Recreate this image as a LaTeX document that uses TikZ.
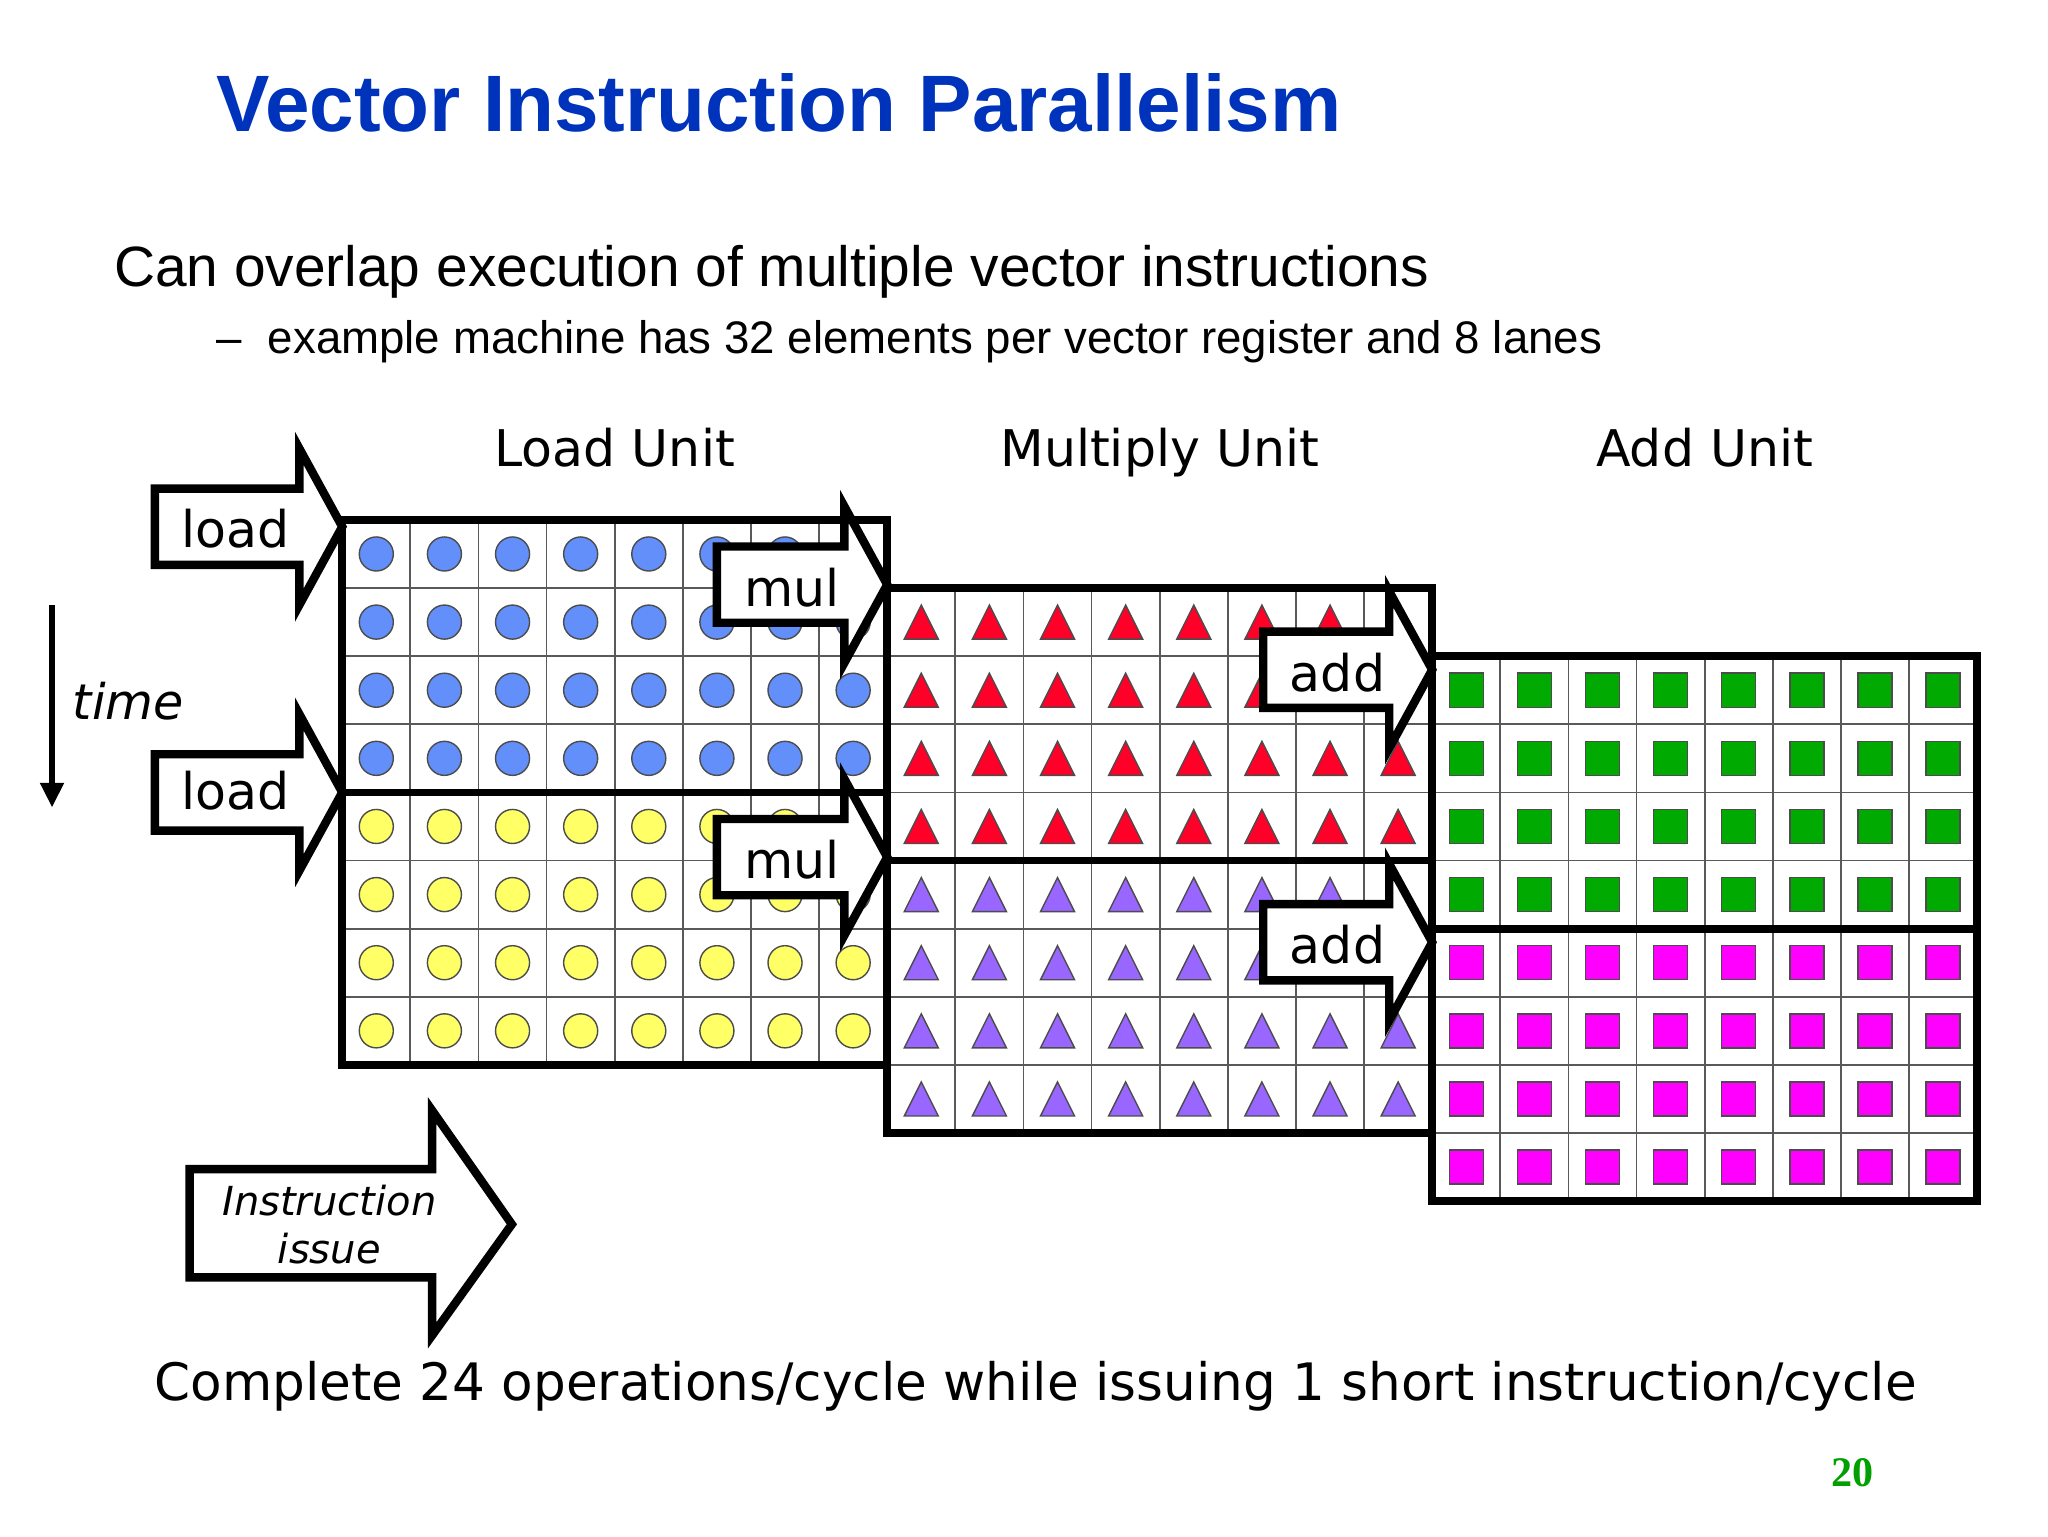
\documentclass[tikz,border=0pt]{standalone}
\usepackage{fontspec}
\setmainfont{DejaVu Sans}
\newfontfamily\arialfont{Liberation Sans}
\newfontfamily\timesfont{Liberation Serif}
\usetikzlibrary{arrows.meta}

\definecolor{titleblue}{RGB}{0,51,187}
\definecolor{ldblue}{RGB}{99,143,250}
\definecolor{ldyellow}{RGB}{255,255,102}
\definecolor{mulred}{RGB}{255,0,40}
\definecolor{mulpurple}{RGB}{153,102,255}
\definecolor{addgreen}{RGB}{0,170,0}
\definecolor{addmagenta}{RGB}{255,0,255}
\definecolor{pagegreen}{RGB}{0,160,0}

\begin{document}
\begin{tikzpicture}[x=0.682cm,y=0.682cm,
    cellgrid/.style={black!65, line width=0.5pt},
    regbox/.style={draw, line width=2.2pt},
    issuearrow/.style={draw, fill=white, line width=2.4pt, line join=miter},
    elem/.style={draw=black!70, line width=0.4pt},
    verd/.style={font=\fontsize{14.4}{17}\selectfont}]

      \useasboundingbox[fill=white] (-5.024,7.632) rectangle (25.04,-14.92);

      % slide texts
      \begin{scope}[every node/.style={inner sep=0pt}]
        \node[anchor=base west, text=titleblue, font=\arialfont\bfseries\fontsize{22.8}{27}\selectfont] (title) at (-1.86,5.70) {Vector Instruction Parallelism};
        \node[anchor=base west, font=\arialfont\fontsize{16.2}{19}\selectfont] (point) at (-3.36,3.43) {Can overlap execution of multiple vector instructions};
        \node[anchor=base west, font=\arialfont\fontsize{13}{15}\selectfont] (subpoint) at (-1.86,2.45) {–\hspace{7.5pt}example machine has 32 elements per vector register and 8 lanes};
        \node[anchor=base, verd] (loadunit) at (4,0.79) {Load Unit};
        \node[anchor=base, verd] (mulunit)  at (12,0.79) {Multiply Unit};
        \node[anchor=base, verd] (addunit)  at (20,0.79) {Add Unit};
        \node[anchor=base, font=\fontsize{14.7}{17}\selectfont] (summary) at (10.18,-12.92) {Complete 24 operations/cycle while issuing 1 short instruction/cycle};
        \node[anchor=base, font=\itshape\fontsize{14}{17}\selectfont] (time) at (-3.14,-2.93) {time};
        \node[text=pagegreen, font=\timesfont\bfseries\fontsize{12}{14}\selectfont] (page) at (22.17,-13.98) {20};
      \end{scope}

      % lanes x elements
      \foreach \k in {0,...,8} {
        \draw[cellgrid] (\k,0) -- (\k,-8);
        \draw[cellgrid] (0,-\k) -- (8,-\k);
        \draw[cellgrid] (\k+8,-1) -- (\k+8,-9);
        \draw[cellgrid] (8,-\k-1) -- (16,-\k-1);
        \draw[cellgrid] (\k+16,-2) -- (\k+16,-10);
        \draw[cellgrid] (16,-\k-2) -- (24,-\k-2);
      }

      \foreach \i in {0,...,7}
        \foreach \j in {0,...,3} {
          \filldraw[elem, fill=ldblue]   (\i+0.5,-\j-0.5) circle (0.25);
          \filldraw[elem, fill=ldyellow] (\i+0.5,-\j-4.5) circle (0.25);
          \filldraw[elem, fill=mulred, shift={(\i+8.5,-\j-1.5)}]    (-0.25,-0.25) -- (0.25,-0.25) -- (0,0.25) -- cycle;
          \filldraw[elem, fill=mulpurple, shift={(\i+8.5,-\j-5.5)}] (-0.25,-0.25) -- (0.25,-0.25) -- (0,0.25) -- cycle;
          \filldraw[elem, fill=addgreen]   (\i+16.25,-\j-2.75) rectangle (\i+16.75,-\j-2.25);
          \filldraw[elem, fill=addmagenta] (\i+16.25,-\j-6.75) rectangle (\i+16.75,-\j-6.25);
        }

      % instruction arrows
      \foreach \x/\y/\l in {0/-0.1/2.75, 0/-4.0/2.75, 8/-0.95/2.5, 8/-4.95/2.5, 16/-2.2/2.48, 16/-6.2/2.48}
        \draw[issuearrow, shift={(\x,\y)}] (0,0) -- (-0.63,1.15) -- (-0.63,0.56) -- (-\l,0.56)
          -- (-\l,-0.56) -- (-0.63,-0.56) -- (-0.63,-1.15) -- cycle;

      \begin{scope}[every node/.style={verd}]
        \node (load1) at (-1.57,-0.13) {load};
        \node (load2) at (-1.57,-3.97) {load};
        \node (mul1)  at (6.6,-1.0)   {mul};
        \node (mul2)  at (6.6,-4.99)  {mul};
        \node (add1)  at (14.61,-2.24) {add};
        \node (add2)  at (14.61,-6.23) {add};
      \end{scope}

      % vector registers
      \draw[regbox] (0,0) rectangle (8,-8);
      \draw[regbox] (0,-4) -- (8,-4);
      \draw[regbox] (8,-1) rectangle (16,-9);
      \draw[regbox] (8,-5) -- (16,-5);
      \draw[regbox] (16,-2) rectangle (24,-10);
      \draw[regbox] (16,-6) -- (24,-6);

      % time and issue
      \coordinate (t0) at (-4.26,-1.25);
      \coordinate (t1) at (-4.26,-4.22);
      \draw[line width=1.6pt, -{Triangle[length=7pt,width=6.5pt]}] (t0) -- (t1);

      \draw[issuearrow] (2.49,-10.34) -- (1.32,-8.67) -- (1.32,-9.53) -- (-2.24,-9.53)
        -- (-2.24,-11.12) -- (1.32,-11.12) -- (1.32,-11.97) -- cycle;
      \node[align=center, font=\itshape\fontsize{11.4}{13.8}\selectfont] (issue) at (-0.19,-10.34) {Instruction\\issue};

    \end{tikzpicture}
\end{document}
